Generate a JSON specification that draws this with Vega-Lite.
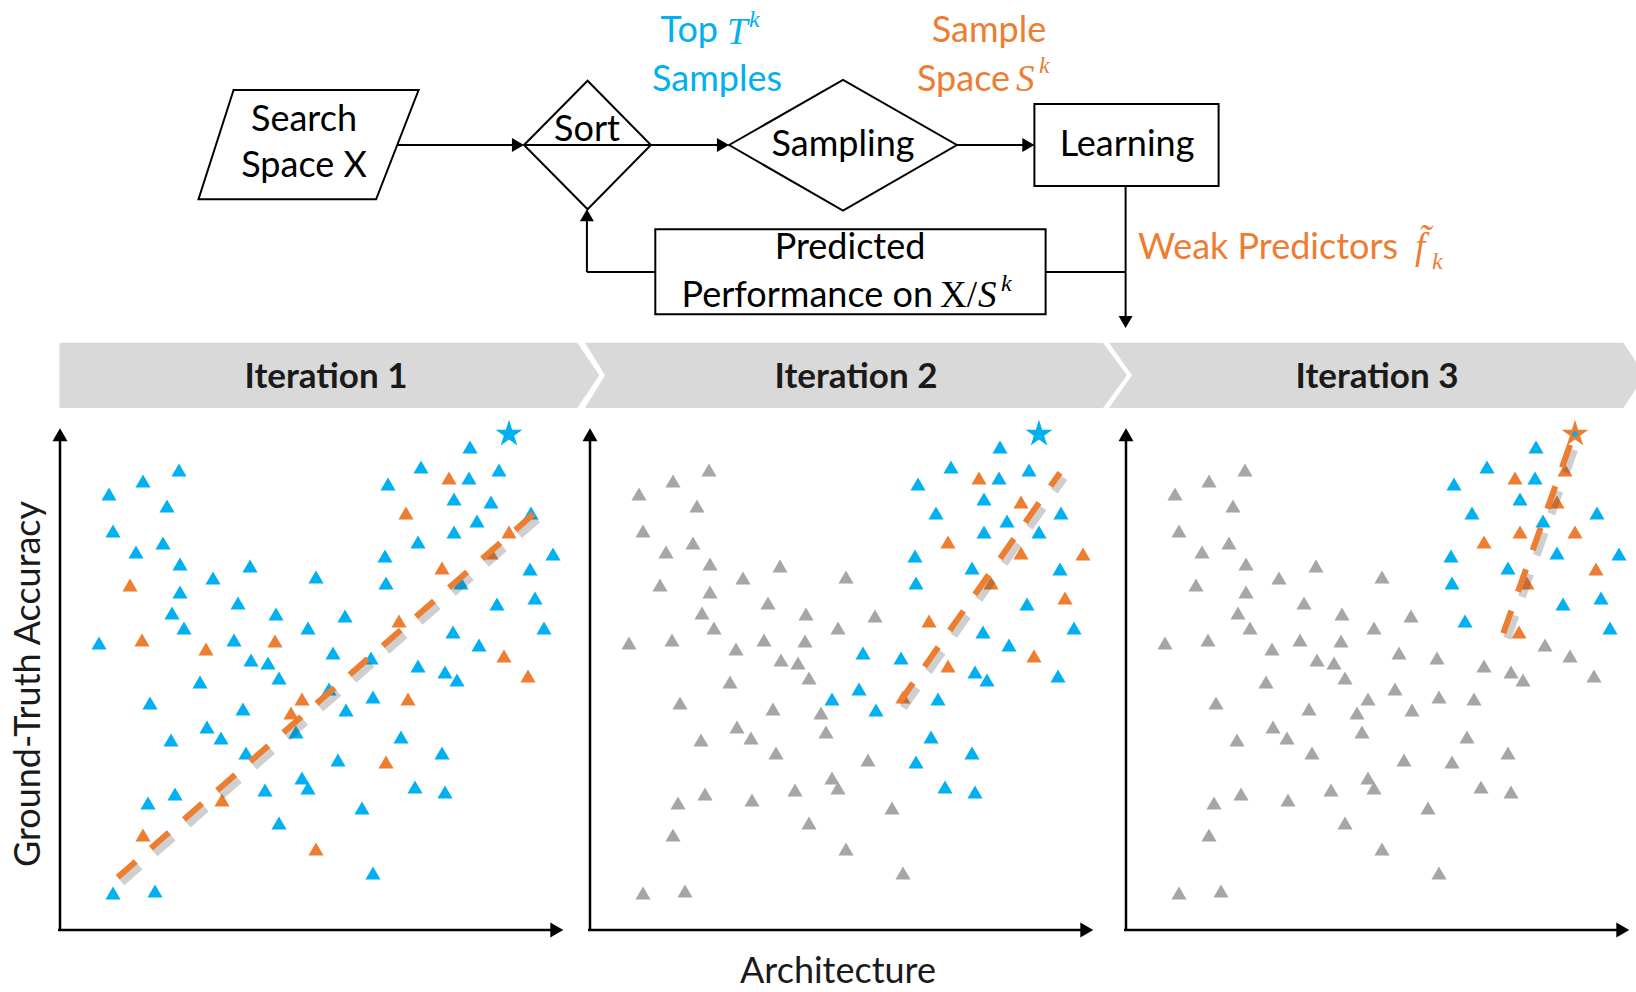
{
  "$schema": "https://vega.github.io/schema/vega-lite/v6.json",
  "background": "white",
  "padding": 0,
  "spacing": 0,
  "bounds": "flush",
  "config": {"view": {"stroke": null}, "font": "Lato"},
  "datasets": {
    "shapes": [
      {"shape": "search", "ord": 0, "gx": 233.6, "gy": 90},
      {"shape": "search", "ord": 1, "gx": 418.6, "gy": 90},
      {"shape": "search", "ord": 2, "gx": 376.1, "gy": 199.3},
      {"shape": "search", "ord": 3, "gx": 198.5, "gy": 199.3},
      {"shape": "search", "ord": 4, "gx": 233.6, "gy": 90},
      {"shape": "sort", "ord": 0, "gx": 524, "gy": 145},
      {"shape": "sort", "ord": 1, "gx": 587.6, "gy": 80.7},
      {"shape": "sort", "ord": 2, "gx": 650.9, "gy": 145},
      {"shape": "sort", "ord": 3, "gx": 587.6, "gy": 209.3},
      {"shape": "sort", "ord": 4, "gx": 524, "gy": 145},
      {"shape": "sampling", "ord": 0, "gx": 729.1, "gy": 145},
      {"shape": "sampling", "ord": 1, "gx": 843, "gy": 80},
      {"shape": "sampling", "ord": 2, "gx": 956.9, "gy": 145},
      {"shape": "sampling", "ord": 3, "gx": 843, "gy": 210.7},
      {"shape": "sampling", "ord": 4, "gx": 729.1, "gy": 145},
      {"shape": "learning", "ord": 0, "gx": 1034.4, "gy": 104},
      {"shape": "learning", "ord": 1, "gx": 1218.6, "gy": 104},
      {"shape": "learning", "ord": 2, "gx": 1218.6, "gy": 186},
      {"shape": "learning", "ord": 3, "gx": 1034.4, "gy": 186},
      {"shape": "learning", "ord": 4, "gx": 1034.4, "gy": 104},
      {"shape": "predicted", "ord": 0, "gx": 655.3, "gy": 229.3},
      {"shape": "predicted", "ord": 1, "gx": 1045.6, "gy": 229.3},
      {"shape": "predicted", "ord": 2, "gx": 1045.6, "gy": 314.3},
      {"shape": "predicted", "ord": 3, "gx": 655.3, "gy": 314.3},
      {"shape": "predicted", "ord": 4, "gx": 655.3, "gy": 229.3}
    ],
    "links": [
      {"gx": 397.5, "gy": 145, "gx2": 520, "gy2": 145},
      {"gx": 524, "gy": 145, "gx2": 725, "gy2": 145},
      {"gx": 956.9, "gy": 145, "gx2": 1030, "gy2": 145},
      {"gx": 1125.6, "gy": 186, "gx2": 1125.6, "gy2": 324},
      {"gx": 1125.6, "gy": 272, "gx2": 1045.6, "gy2": 272},
      {"gx": 655.3, "gy": 272, "gx2": 586.9, "gy2": 272},
      {"gx": 586.9, "gy": 272, "gx2": 586.9, "gy2": 213}
    ],
    "heads": [
      {"gx": 518, "gy": 145, "dir": "right"},
      {"gx": 723, "gy": 145, "dir": "right"},
      {"gx": 1028.4, "gy": 145, "dir": "right"},
      {"gx": 1125.6, "gy": 322, "dir": "down"},
      {"gx": 586.9, "gy": 215.3, "dir": "up"}
    ],
    "notes": [
      {"kind": "c", "role": "node", "gx": 304, "gy": 120, "text": "Search"},
      {"kind": "c", "role": "node", "gx": 304, "gy": 166, "text": "Space X"},
      {"kind": "c", "role": "node", "gx": 587, "gy": 130, "text": "Sort"},
      {"kind": "c", "role": "node", "gx": 843, "gy": 145, "text": "Sampling"},
      {"kind": "c", "role": "node", "gx": 1127, "gy": 145, "text": "Learning"},
      {"kind": "c", "role": "node", "gx": 850, "gy": 248, "text": "Predicted"},
      {"kind": "c", "role": "top", "gx": 717, "gy": 80, "text": "Samples"},
      {"kind": "c", "role": "sample", "gx": 989, "gy": 31, "text": "Sample"},
      {"kind": "r", "role": "top", "gx": 718, "gy": 31, "text": "Top"},
      {"kind": "r", "role": "sample", "gx": 1010, "gy": 80, "text": "Space"},
      {"kind": "r", "role": "node", "gx": 933, "gy": 296, "text": "Performance on"},
      {"kind": "r", "role": "sample", "gx": 1398, "gy": 248, "text": "Weak Predictors"},
      {"kind": "m", "role": "top", "gx": 727, "gy": 33, "text": "T"},
      {"kind": "m", "role": "sample", "gx": 1016, "gy": 80, "text": "S"},
      {"kind": "m", "role": "node", "gx": 978, "gy": 296, "text": "S"},
      {"kind": "m", "role": "sample", "gx": 1415, "gy": 248, "text": "f̃"},
      {"kind": "u", "role": "node", "gx": 940, "gy": 296, "text": "X/"},
      {"kind": "s", "role": "top", "gx": 749, "gy": 20, "text": "k"},
      {"kind": "s", "role": "sample", "gx": 1039, "gy": 66, "text": "k"},
      {"kind": "s", "role": "node", "gx": 1001, "gy": 284, "text": "k"},
      {"kind": "s", "role": "sample", "gx": 1432, "gy": 262, "text": "k"}
    ],
    "chevrons": [
      {"it": 1, "acc": 587.3, "a": -0.5, "a2": 517.3},
      {"it": 1, "acc": 554.7, "a": -0.5, "a2": 539.3},
      {"it": 1, "acc": 522, "a": -0.5, "a2": 517.3},
      {"it": 2, "acc": 587.3, "a": -5, "a2": 513},
      {"it": 2, "acc": 554.7, "a": 15, "a2": 537},
      {"it": 2, "acc": 522, "a": -5, "a2": 513},
      {"it": 3, "acc": 587.3, "a": -17, "a2": 497.3},
      {"it": 3, "acc": 554.7, "a": 6, "a2": 519},
      {"it": 3, "acc": 522, "a": -17, "a2": 497.3}
    ],
    "captions": [
      {"it": 1, "kind": "title", "a": 266, "acc": 553, "text": "Iteration 1"},
      {"it": 2, "kind": "title", "a": 266, "acc": 553, "text": "Iteration 2"},
      {"it": 3, "kind": "title", "a": 251, "acc": 553, "text": "Iteration 3"},
      {"it": 1, "kind": "ylab", "a": -31, "acc": 246, "text": "Ground-Truth Accuracy"},
      {"it": 2, "kind": "xlab", "a": 248, "acc": -42, "text": "Architecture"}
    ],
    "frame": [
      {"a": 0, "acc": -1, "a2": 0, "acc2": 496},
      {"a": -2, "acc": 0, "a2": 498, "acc2": 0}
    ],
    "frameHeads": [
      {"a": 0, "acc": 495.2, "dir": "up"},
      {"a": 496.8, "acc": 0, "dir": "right"}
    ],
    "fits": [
      {"it": 1, "a": 57.7, "acc": 52.7},
      {"it": 1, "a": 477.3, "acc": 419.3},
      {"it": 2, "a": 309.3, "acc": 227.3},
      {"it": 2, "a": 470, "acc": 457.3},
      {"it": 3, "a": 377.3, "acc": 296.7},
      {"it": 3, "a": 446.3, "acc": 491.7}
    ],
    "best": [{"a": 449, "acc": 496}],
    "arch": [
      {"a": 119, "acc": 460, "s1": "top", "s2": "rest", "s3": "rest"},
      {"a": 83, "acc": 449, "s1": "top", "s2": "rest", "s3": "rest"},
      {"a": 49, "acc": 436, "s1": "top", "s2": "rest", "s3": "rest"},
      {"a": 107, "acc": 424, "s1": "top", "s2": "rest", "s3": "rest"},
      {"a": 53, "acc": 399, "s1": "top", "s2": "rest", "s3": "rest"},
      {"a": 103, "acc": 387, "s1": "top", "s2": "rest", "s3": "rest"},
      {"a": 76, "acc": 378, "s1": "top", "s2": "rest", "s3": "rest"},
      {"a": 120, "acc": 366, "s1": "top", "s2": "rest", "s3": "rest"},
      {"a": 190, "acc": 364, "s1": "top", "s2": "rest", "s3": "rest"},
      {"a": 153, "acc": 352, "s1": "top", "s2": "rest", "s3": "rest"},
      {"a": 256, "acc": 353, "s1": "top", "s2": "rest", "s3": "rest"},
      {"a": 70, "acc": 345, "s1": "sample", "s2": "rest", "s3": "rest"},
      {"a": 120, "acc": 338, "s1": "top", "s2": "rest", "s3": "rest"},
      {"a": 178, "acc": 327, "s1": "top", "s2": "rest", "s3": "rest"},
      {"a": 112, "acc": 317, "s1": "top", "s2": "rest", "s3": "rest"},
      {"a": 216, "acc": 316, "s1": "top", "s2": "rest", "s3": "rest"},
      {"a": 285, "acc": 314, "s1": "top", "s2": "rest", "s3": "rest"},
      {"a": 124, "acc": 302, "s1": "top", "s2": "rest", "s3": "rest"},
      {"a": 248, "acc": 302, "s1": "top", "s2": "rest", "s3": "rest"},
      {"a": 39, "acc": 287, "s1": "top", "s2": "rest", "s3": "rest"},
      {"a": 82, "acc": 290, "s1": "sample", "s2": "rest", "s3": "rest"},
      {"a": 174, "acc": 290, "s1": "top", "s2": "rest", "s3": "rest"},
      {"a": 215, "acc": 289, "s1": "sample", "s2": "rest", "s3": "rest"},
      {"a": 146, "acc": 281, "s1": "sample", "s2": "rest", "s3": "rest"},
      {"a": 191, "acc": 270, "s1": "top", "s2": "rest", "s3": "rest"},
      {"a": 208, "acc": 267, "s1": "top", "s2": "rest", "s3": "rest"},
      {"a": 219, "acc": 252, "s1": "top", "s2": "rest", "s3": "rest"},
      {"a": 140, "acc": 248, "s1": "top", "s2": "rest", "s3": "rest"},
      {"a": 90, "acc": 227, "s1": "top", "s2": "rest", "s3": "rest"},
      {"a": 183, "acc": 221, "s1": "top", "s2": "rest", "s3": "rest"},
      {"a": 231, "acc": 217, "s1": "sample", "s2": "rest", "s3": "rest"},
      {"a": 147, "acc": 203, "s1": "top", "s2": "rest", "s3": "rest"},
      {"a": 161, "acc": 192, "s1": "top", "s2": "rest", "s3": "rest"},
      {"a": 236, "acc": 198, "s1": "top", "s2": "rest", "s3": "rest"},
      {"a": 111, "acc": 190, "s1": "top", "s2": "rest", "s3": "rest"},
      {"a": 186, "acc": 177, "s1": "top", "s2": "rest", "s3": "rest"},
      {"a": 278, "acc": 170, "s1": "top", "s2": "rest", "s3": "rest"},
      {"a": 242, "acc": 152, "s1": "top", "s2": "rest", "s3": "rest"},
      {"a": 248, "acc": 142, "s1": "top", "s2": "rest", "s3": "rest"},
      {"a": 115, "acc": 136, "s1": "top", "s2": "rest", "s3": "rest"},
      {"a": 205, "acc": 140, "s1": "top", "s2": "rest", "s3": "rest"},
      {"a": 162, "acc": 130, "s1": "sample", "s2": "rest", "s3": "rest"},
      {"a": 88, "acc": 127, "s1": "top", "s2": "rest", "s3": "rest"},
      {"a": 302, "acc": 122, "s1": "top", "s2": "rest", "s3": "rest"},
      {"a": 219, "acc": 107, "s1": "top", "s2": "rest", "s3": "rest"},
      {"a": 83, "acc": 95, "s1": "sample", "s2": "rest", "s3": "rest"},
      {"a": 256, "acc": 81, "s1": "sample", "s2": "rest", "s3": "rest"},
      {"a": 313, "acc": 57, "s1": "top", "s2": "rest", "s3": "rest"},
      {"a": 53, "acc": 37, "s1": "top", "s2": "rest", "s3": "rest"},
      {"a": 95, "acc": 39, "s1": "top", "s2": "rest", "s3": "rest"},
      {"a": 410, "acc": 483, "s1": "top", "s2": "top", "s3": "top"},
      {"a": 361, "acc": 463, "s1": "top", "s2": "top", "s3": "top"},
      {"a": 409, "acc": 452, "s1": "top", "s2": "top", "s3": "top"},
      {"a": 439, "acc": 460, "s1": "top", "s2": "top", "s3": "sample"},
      {"a": 328, "acc": 446, "s1": "top", "s2": "top", "s3": "top"},
      {"a": 394, "acc": 431, "s1": "top", "s2": "top", "s3": "top"},
      {"a": 346, "acc": 417, "s1": "sample", "s2": "top", "s3": "top"},
      {"a": 471, "acc": 417, "s1": "top", "s2": "top", "s3": "top"},
      {"a": 417, "acc": 409, "s1": "top", "s2": "top", "s3": "top"},
      {"a": 394, "acc": 398, "s1": "top", "s2": "top", "s3": "sample"},
      {"a": 449, "acc": 398, "s1": "sample", "s2": "top", "s3": "sample"},
      {"a": 325, "acc": 374, "s1": "top", "s2": "top", "s3": "top"},
      {"a": 382, "acc": 362, "s1": "sample", "s2": "top", "s3": "top"},
      {"a": 470, "acc": 361, "s1": "top", "s2": "top", "s3": "sample"},
      {"a": 326, "acc": 347, "s1": "top", "s2": "top", "s3": "top"},
      {"a": 437, "acc": 326, "s1": "top", "s2": "top", "s3": "top"},
      {"a": 484, "acc": 302, "s1": "top", "s2": "top", "s3": "top"},
      {"a": 393, "acc": 298, "s1": "top", "s2": "top", "s3": "sample"},
      {"a": 419, "acc": 285, "s1": "top", "s2": "top", "s3": "rest"},
      {"a": 273, "acc": 277, "s1": "top", "s2": "top", "s3": "rest"},
      {"a": 311, "acc": 272, "s1": "top", "s2": "top", "s3": "rest"},
      {"a": 385, "acc": 258, "s1": "top", "s2": "top", "s3": "rest"},
      {"a": 397, "acc": 250, "s1": "top", "s2": "top", "s3": "rest"},
      {"a": 468, "acc": 254, "s1": "sample", "s2": "top", "s3": "rest"},
      {"a": 269, "acc": 241, "s1": "top", "s2": "top", "s3": "rest"},
      {"a": 242, "acc": 231, "s1": "sample", "s2": "top", "s3": "rest"},
      {"a": 348, "acc": 231, "s1": "sample", "s2": "top", "s3": "rest"},
      {"a": 286, "acc": 220, "s1": "top", "s2": "top", "s3": "rest"},
      {"a": 341, "acc": 193, "s1": "top", "s2": "top", "s3": "rest"},
      {"a": 382, "acc": 177, "s1": "top", "s2": "top", "s3": "rest"},
      {"a": 326, "acc": 168, "s1": "sample", "s2": "top", "s3": "rest"},
      {"a": 355, "acc": 143, "s1": "top", "s2": "top", "s3": "rest"},
      {"a": 385, "acc": 138, "s1": "top", "s2": "top", "s3": "rest"},
      {"a": 389, "acc": 452, "s1": "sample", "s2": "sample", "s3": "sample"},
      {"a": 431, "acc": 428, "s1": "top", "s2": "sample", "s3": "sample"},
      {"a": 358, "acc": 388, "s1": "top", "s2": "sample", "s3": "sample"},
      {"a": 431, "acc": 377, "s1": "sample", "s2": "sample", "s3": "top"},
      {"a": 493, "acc": 376, "s1": "top", "s2": "sample", "s3": "top"},
      {"a": 401, "acc": 347, "s1": "top", "s2": "sample", "s3": "sample"},
      {"a": 475, "acc": 332, "s1": "top", "s2": "sample", "s3": "top"},
      {"a": 339, "acc": 309, "s1": "sample", "s2": "sample", "s3": "top"},
      {"a": 444, "acc": 274, "s1": "sample", "s2": "sample", "s3": "rest"},
      {"a": 358, "acc": 264, "s1": "top", "s2": "sample", "s3": "rest"},
      {"a": 313, "acc": 233, "s1": "top", "s2": "sample", "s3": "rest"}
    ]
  },
  "vconcat": [
    {
      "width": 1636,
      "height": 340,
      "encoding": {
        "x": {"field": "gx", "type": "quantitative", "scale": {"domain": [0, 1636], "nice": false, "zero": false}, "axis": null},
        "y": {"field": "gy", "type": "quantitative", "scale": {"domain": [0, 340], "nice": false, "zero": false, "reverse": true}, "axis": null}
      },
      "layer": [
        {
          "data": {"name": "shapes"},
          "mark": {"type": "line", "color": "#000000", "strokeWidth": 2, "strokeJoin": "miter", "strokeCap": "square"},
          "encoding": {"detail": {"field": "shape"}, "order": {"field": "ord", "type": "quantitative"}}
        },
        {
          "data": {"name": "links"},
          "mark": {"type": "rule", "color": "#000000", "strokeWidth": 2},
          "encoding": {"x2": {"field": "gx2"}, "y2": {"field": "gy2"}}
        },
        {
          "data": {"name": "heads"},
          "mark": {"type": "point", "filled": true, "color": "#000000", "size": 196, "opacity": 1},
          "encoding": {"shape": {"field": "dir", "type": "nominal", "scale": {"domain": ["right", "down", "up"], "range": ["triangle-right", "triangle-down", "triangle-up"]}, "legend": null}}
        },
        {
          "data": {"name": "notes"},
          "transform": [{"filter": "datum.kind == 'c'"}],
          "mark": {"type": "text", "font": "Lato", "fontSize": 36, "align": "center", "baseline": "middle"},
          "encoding": {
            "text": {"field": "text"},
            "color": {"field": "role", "type": "nominal", "scale": {"domain": ["node", "top", "sample", "rest"], "range": ["#000000", "#00B0F0", "#ED7D31", "#A6A6A6"]}, "legend": null}
          }
        },
        {
          "data": {"name": "notes"},
          "transform": [{"filter": "datum.kind == 'r'"}],
          "mark": {"type": "text", "font": "Lato", "fontSize": 36, "align": "right", "baseline": "middle"},
          "encoding": {
            "text": {"field": "text"},
            "color": {"field": "role", "type": "nominal", "scale": {"domain": ["node", "top", "sample", "rest"], "range": ["#000000", "#00B0F0", "#ED7D31", "#A6A6A6"]}, "legend": null}
          }
        },
        {
          "data": {"name": "notes"},
          "transform": [{"filter": "datum.kind == 'm'"}],
          "mark": {"type": "text", "font": "Liberation Serif", "fontStyle": "italic", "fontSize": 37, "align": "left", "baseline": "middle"},
          "encoding": {
            "text": {"field": "text"},
            "color": {"field": "role", "type": "nominal", "scale": {"domain": ["node", "top", "sample", "rest"], "range": ["#000000", "#00B0F0", "#ED7D31", "#A6A6A6"]}, "legend": null}
          }
        },
        {
          "data": {"name": "notes"},
          "transform": [{"filter": "datum.kind == 'u'"}],
          "mark": {"type": "text", "font": "Liberation Serif", "fontSize": 37, "align": "left", "baseline": "middle"},
          "encoding": {
            "text": {"field": "text"},
            "color": {"field": "role", "type": "nominal", "scale": {"domain": ["node", "top", "sample", "rest"], "range": ["#000000", "#00B0F0", "#ED7D31", "#A6A6A6"]}, "legend": null}
          }
        },
        {
          "data": {"name": "notes"},
          "transform": [{"filter": "datum.kind == 's'"}],
          "mark": {"type": "text", "font": "Liberation Serif", "fontStyle": "italic", "fontSize": 24, "align": "left", "baseline": "middle"},
          "encoding": {
            "text": {"field": "text"},
            "color": {"field": "role", "type": "nominal", "scale": {"domain": ["node", "top", "sample", "rest"], "range": ["#000000", "#00B0F0", "#ED7D31", "#A6A6A6"]}, "legend": null}
          }
        }
      ]
    },
    {
      "spacing": 0,
      "bounds": "flush",
      "hconcat": [
        {
          "width": 585,
          "height": 652,
          "encoding": {
            "x": {"field": "a", "type": "quantitative", "scale": {"domain": [-60, 525], "nice": false, "zero": false}, "axis": null},
            "y": {"field": "acc", "type": "quantitative", "scale": {"domain": [-62, 590], "nice": false, "zero": false}, "axis": null}
          },
          "layer": [
            {
              "data": {"name": "chevrons"},
              "transform": [{"filter": "datum.it == 1"}],
              "mark": {"type": "area", "orient": "horizontal", "color": "#D9D9D9", "opacity": 1},
              "encoding": {
                "x": {"field": "a", "type": "quantitative", "stack": null, "scale": {"domain": [-60, 525], "nice": false, "zero": false}, "axis": null},
                "x2": {"field": "a2"}
              }
            },
            {
              "data": {"name": "captions"},
              "transform": [{"filter": "datum.it == 1 && datum.kind == 'title'"}],
              "mark": {"type": "text", "font": "Lato", "fontWeight": "bold", "fontSize": 35, "color": "#1a1a1a", "baseline": "middle"},
              "encoding": {"text": {"field": "text"}}
            },
            {
              "data": {"name": "captions"},
              "transform": [{"filter": "datum.kind == 'ylab'"}],
              "mark": {"type": "text", "font": "Lato", "fontSize": 36, "angle": 270, "color": "#1a1a1a", "baseline": "middle"},
              "encoding": {"text": {"field": "text"}}
            },
            {
              "data": {"name": "frame"},
              "mark": {"type": "rule", "color": "#000000", "strokeWidth": 2.5},
              "encoding": {"x2": {"field": "a2"}, "y2": {"field": "acc2"}}
            },
            {
              "data": {"name": "frameHeads"},
              "mark": {"type": "point", "filled": true, "color": "#000000", "size": 225, "opacity": 1},
              "encoding": {"shape": {"field": "dir", "type": "nominal", "scale": {"domain": ["right", "down", "up"], "range": ["triangle-right", "triangle-down", "triangle-up"]}, "legend": null}}
            },
            {
              "data": {"name": "arch"},
              "mark": {"type": "point", "shape": "triangle-up", "filled": true, "size": 230, "opacity": 1},
              "encoding": {"color": {"field": "s1", "type": "nominal", "scale": {"domain": ["node", "top", "sample", "rest"], "range": ["#000000", "#00B0F0", "#ED7D31", "#A6A6A6"]}, "legend": null}}
            },
            {
              "data": {"name": "fits"},
              "transform": [{"filter": "datum.it == 1"}],
              "mark": {"type": "line", "color": "#404040", "opacity": 0.25, "strokeWidth": 8, "strokeDash": [24, 20], "xOffset": 4, "yOffset": 5}
            },
            {
              "data": {"name": "fits"},
              "transform": [{"filter": "datum.it == 1"}],
              "mark": {"type": "line", "color": "#ED7D31", "strokeWidth": 6, "strokeDash": [24, 20]}
            },
            {
              "data": {"name": "best"},
              "mark": {"type": "point", "shape": "M0,-1L0.225,-0.309L0.951,-0.309L0.363,0.118L0.588,0.809L0,0.382L-0.588,0.809L-0.363,0.118L-0.951,-0.309L-0.225,-0.309Z", "filled": true, "size": 800, "color": "#00B0F0", "opacity": 1}
            }
          ]
        },
        {
          "width": 524,
          "height": 652,
          "encoding": {
            "x": {"field": "a", "type": "quantitative", "scale": {"domain": [-5, 519], "nice": false, "zero": false}, "axis": null},
            "y": {"field": "acc", "type": "quantitative", "scale": {"domain": [-62, 590], "nice": false, "zero": false}, "axis": null}
          },
          "layer": [
            {
              "data": {"name": "chevrons"},
              "transform": [{"filter": "datum.it == 2"}],
              "mark": {"type": "area", "orient": "horizontal", "color": "#D9D9D9", "opacity": 1},
              "encoding": {
                "x": {"field": "a", "type": "quantitative", "stack": null, "scale": {"domain": [-5, 519], "nice": false, "zero": false}, "axis": null},
                "x2": {"field": "a2"}
              }
            },
            {
              "data": {"name": "captions"},
              "transform": [{"filter": "datum.it == 2 && datum.kind == 'title'"}],
              "mark": {"type": "text", "font": "Lato", "fontWeight": "bold", "fontSize": 35, "color": "#1a1a1a", "baseline": "middle"},
              "encoding": {"text": {"field": "text"}}
            },
            {
              "data": {"name": "captions"},
              "transform": [{"filter": "datum.kind == 'xlab'"}],
              "mark": {"type": "text", "font": "Lato", "fontSize": 36, "color": "#1a1a1a", "baseline": "middle"},
              "encoding": {"text": {"field": "text"}}
            },
            {
              "data": {"name": "frame"},
              "mark": {"type": "rule", "color": "#000000", "strokeWidth": 2.5},
              "encoding": {"x2": {"field": "a2"}, "y2": {"field": "acc2"}}
            },
            {
              "data": {"name": "frameHeads"},
              "mark": {"type": "point", "filled": true, "color": "#000000", "size": 225, "opacity": 1},
              "encoding": {"shape": {"field": "dir", "type": "nominal", "scale": {"domain": ["right", "down", "up"], "range": ["triangle-right", "triangle-down", "triangle-up"]}, "legend": null}}
            },
            {
              "data": {"name": "arch"},
              "mark": {"type": "point", "shape": "triangle-up", "filled": true, "size": 230, "opacity": 1},
              "encoding": {"color": {"field": "s2", "type": "nominal", "scale": {"domain": ["node", "top", "sample", "rest"], "range": ["#000000", "#00B0F0", "#ED7D31", "#A6A6A6"]}, "legend": null}}
            },
            {
              "data": {"name": "fits"},
              "transform": [{"filter": "datum.it == 2"}],
              "mark": {"type": "line", "color": "#404040", "opacity": 0.25, "strokeWidth": 8, "strokeDash": [24, 20], "xOffset": 4, "yOffset": 5}
            },
            {
              "data": {"name": "fits"},
              "transform": [{"filter": "datum.it == 2"}],
              "mark": {"type": "line", "color": "#ED7D31", "strokeWidth": 6, "strokeDash": [24, 20]}
            },
            {
              "data": {"name": "best"},
              "mark": {"type": "point", "shape": "M0,-1L0.225,-0.309L0.951,-0.309L0.363,0.118L0.588,0.809L0,0.382L-0.588,0.809L-0.363,0.118L-0.951,-0.309L-0.225,-0.309Z", "filled": true, "size": 800, "color": "#00B0F0", "opacity": 1}
            }
          ]
        },
        {
          "width": 527,
          "height": 652,
          "encoding": {
            "x": {"field": "a", "type": "quantitative", "scale": {"domain": [-17, 510], "nice": false, "zero": false}, "axis": null},
            "y": {"field": "acc", "type": "quantitative", "scale": {"domain": [-62, 590], "nice": false, "zero": false}, "axis": null}
          },
          "layer": [
            {
              "data": {"name": "chevrons"},
              "transform": [{"filter": "datum.it == 3"}],
              "mark": {"type": "area", "orient": "horizontal", "color": "#D9D9D9", "opacity": 1},
              "encoding": {
                "x": {"field": "a", "type": "quantitative", "stack": null, "scale": {"domain": [-17, 510], "nice": false, "zero": false}, "axis": null},
                "x2": {"field": "a2"}
              }
            },
            {
              "data": {"name": "captions"},
              "transform": [{"filter": "datum.it == 3 && datum.kind == 'title'"}],
              "mark": {"type": "text", "font": "Lato", "fontWeight": "bold", "fontSize": 35, "color": "#1a1a1a", "baseline": "middle"},
              "encoding": {"text": {"field": "text"}}
            },
            {
              "data": {"name": "frame"},
              "mark": {"type": "rule", "color": "#000000", "strokeWidth": 2.5},
              "encoding": {"x2": {"field": "a2"}, "y2": {"field": "acc2"}}
            },
            {
              "data": {"name": "frameHeads"},
              "mark": {"type": "point", "filled": true, "color": "#000000", "size": 225, "opacity": 1},
              "encoding": {"shape": {"field": "dir", "type": "nominal", "scale": {"domain": ["right", "down", "up"], "range": ["triangle-right", "triangle-down", "triangle-up"]}, "legend": null}}
            },
            {
              "data": {"name": "arch"},
              "mark": {"type": "point", "shape": "triangle-up", "filled": true, "size": 230, "opacity": 1},
              "encoding": {"color": {"field": "s3", "type": "nominal", "scale": {"domain": ["node", "top", "sample", "rest"], "range": ["#000000", "#00B0F0", "#ED7D31", "#A6A6A6"]}, "legend": null}}
            },
            {
              "data": {"name": "fits"},
              "transform": [{"filter": "datum.it == 3"}],
              "mark": {"type": "line", "color": "#404040", "opacity": 0.25, "strokeWidth": 8, "strokeDash": [24, 20], "xOffset": 4, "yOffset": 5}
            },
            {
              "data": {"name": "fits"},
              "transform": [{"filter": "datum.it == 3"}],
              "mark": {"type": "line", "color": "#ED7D31", "strokeWidth": 6, "strokeDash": [24, 20]}
            },
            {
              "data": {"name": "best"},
              "mark": {"type": "point", "shape": "M0,-1L0.225,-0.309L0.951,-0.309L0.363,0.118L0.588,0.809L0,0.382L-0.588,0.809L-0.363,0.118L-0.951,-0.309L-0.225,-0.309Z", "filled": true, "size": 800, "color": "#ED7D31", "opacity": 1}
            },
            {
              "data": {"name": "best"},
              "mark": {"type": "point", "shape": "circle", "filled": true, "size": 28, "color": "#00B0F0", "opacity": 1}
            }
          ]
        }
      ]
    }
  ]
}
